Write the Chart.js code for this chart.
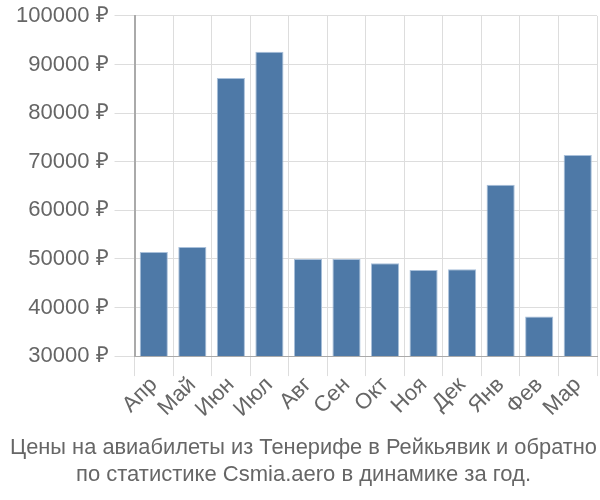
<!DOCTYPE html>
<html><head><meta charset="utf-8">
<script src="https://cdn.jsdelivr.net/npm/chart.js@4"></script>
<style>html,body{margin:0;padding:0;background:#fff}#w{width:600px;height:500px}</style>
</head><body><div id="w"><canvas id="c"></canvas></div>
<script>
const categories = ["Апр","Май","Июн","Июл","Авг","Сен","Окт","Ноя","Дек","Янв","Фев","Мар"];
const prices = [51400,52450,87200,92600,50000,49950,49100,47700,47850,65250,38150,71400];
const titleLines = ["Цены на авиабилеты из Тенерифе в Рейкьявик и обратно","по статистике Csmia.aero в динамике за год."];
const F = "'Liberation Sans', Arial, sans-serif";
new Chart(document.getElementById('c'), {
  type: 'bar',
  data: { labels: categories, datasets: [{ data: prices, backgroundColor: '#4e79a7', borderColor: '#a9c0da', borderWidth: 1, categoryPercentage: 1, barPercentage: 0.73 }] },
  options: {
    responsive: true, maintainAspectRatio: false, animation: false,
    layout: { padding: { top: 0, right: 3, left: 10, bottom: 12 } },
    plugins: {
      legend: { display: false }, tooltip: { enabled: false },
      title: { display: true, position: 'bottom', text: titleLines, color: '#666', font: { family: F, size: 22, weight: 'normal', lineHeight: 1.22 }, padding: { top: 16, bottom: 0 } }
    },
    scales: {
      x: { grid: { color: '#ddd', tickLength: 20, offset: true }, border: { color: '#aaa' },
           ticks: { autoSkip: false, color: '#666', font: { family: F, size: 22 }, maxRotation: 45, minRotation: 45, padding: -4 } },
      y: { min: 30000, max: 100000, grid: { color: '#ddd', tickLength: 20 }, border: { color: '#aaa', width: 2 },
           ticks: { stepSize: 10000, color: '#666', font: { family: F, size: 22, lineHeight: 0.9 }, padding: 6, callback: v => v + ' ₽' } }
    }
  }
});
</script></body></html>
